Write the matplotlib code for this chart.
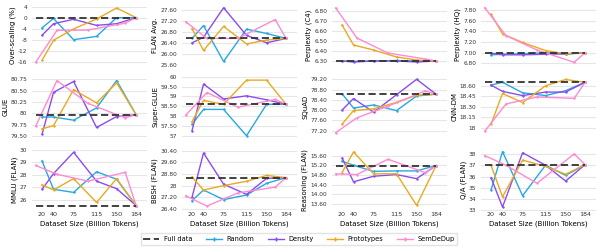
import numpy as np
import matplotlib.pyplot as plt
from matplotlib.ticker import MultipleLocator, FuncFormatter

# dataset sizes (billion tokens)
sizes = [20, 40, 75, 115, 150, 184]
sizes_sem = [9, 46, 100, 165, 184]
xticks = [20, 40, 75, 115, 150, 184]

over_full = 0.0
over_random = [-3.7, -0.3, -8.0, -6.8, 0.0, 0.0]
over_density = [-6.4, -2.2, -0.6, -2.8, -2.2, 0.0]
over_proto = [-15.5, -8.2, -4.1, -0.5, 3.5, 0.0]
over_sem = [-16.2, -4.6, -4.5, -2.0, 0.0]

flan_full = 26.56
flan_random = [26.56, 27.03, 25.72, 26.90, 26.74, 26.56]
flan_density = [26.40, 26.60, 27.68, 26.67, 26.40, 26.56]
flan_proto = [26.92, 26.12, 27.00, 26.36, 26.50, 26.56]
flan_sem = [27.17, 26.56, 26.56, 27.25, 26.56]

c4_full = 6.30
c4_random = [6.30, 6.295, 6.30, 6.305, 6.30, 6.30]
c4_density = [6.30, 6.29, 6.30, 6.30, 6.29, 6.30]
c4_proto = [6.66, 6.46, 6.41, 6.34, 6.31, 6.30]
c4_sem = [6.83, 6.53, 6.38, 6.32, 6.30]

hq_full = 7.00
hq_random = [6.96, 6.97, 6.98, 7.00, 6.97, 7.00]
hq_density = [6.99, 6.96, 6.96, 6.97, 6.98, 7.00]
hq_proto = [7.72, 7.35, 7.19, 7.04, 6.98, 7.00]
hq_sem = [7.84, 7.32, 7.05, 6.82, 7.00]

glue_full = 79.97
glue_random = [79.92, 79.92, 79.85, 80.12, 80.72, 79.97]
glue_density = [79.54, 80.46, 80.70, 79.69, 79.93, 79.97]
glue_proto = [79.66, 79.73, 80.52, 80.23, 80.67, 79.97]
glue_sem = [79.72, 80.72, 80.22, 79.90, 79.97]

sglue_full = 58.60
sglue_random = [57.58, 58.34, 58.34, 57.00, 58.60, 58.60]
sglue_density = [57.26, 59.63, 58.87, 59.03, 58.83, 58.60]
sglue_proto = [57.72, 58.80, 58.60, 59.83, 59.83, 58.60]
sglue_sem = [58.05, 59.20, 58.45, 58.85, 58.60]

squad_full = 78.62
squad_random = [78.64, 78.08, 78.20, 77.98, 78.55, 78.62]
squad_density = [78.00, 78.45, 77.92, 78.60, 79.20, 78.62]
squad_proto = [77.45, 77.98, 78.05, 78.30, 78.58, 78.62]
squad_sem = [77.12, 77.70, 78.15, 78.75, 78.62]

cnn_full = 18.65
cnn_random = [18.61, 18.65, 18.50, 18.46, 18.53, 18.65]
cnn_density = [18.61, 18.52, 18.46, 18.51, 18.51, 18.65]
cnn_proto = [18.05, 18.49, 18.36, 18.60, 18.69, 18.65]
cnn_sem = [17.95, 18.34, 18.44, 18.42, 18.65]

mmlu_full = 25.55
mmlu_random = [29.10, 26.85, 26.60, 28.25, 27.65, 25.55]
mmlu_density = [26.85, 28.10, 29.80, 27.50, 26.90, 25.55]
mmlu_proto = [27.20, 26.80, 27.70, 25.80, 27.70, 25.55]
mmlu_sem = [28.75, 28.05, 27.50, 28.20, 25.55]

bbsh_full = 28.55
bbsh_random = [26.97, 27.70, 27.04, 27.36, 28.16, 28.55]
bbsh_density = [27.20, 30.24, 28.10, 27.40, 28.50, 28.55]
bbsh_proto = [28.60, 27.70, 28.00, 28.30, 28.70, 28.55]
bbsh_sem = [27.30, 26.60, 27.50, 27.90, 28.55]

reas_full = 15.19
reas_random = [15.37, 15.20, 14.95, 14.97, 14.97, 15.19]
reas_density = [15.50, 14.52, 14.75, 14.82, 14.65, 15.19]
reas_proto = [14.90, 15.75, 14.85, 14.85, 13.55, 15.19]
reas_sem = [14.85, 14.82, 15.45, 14.90, 15.19]

qa_full = 37.05
qa_random = [34.80, 38.20, 34.30, 37.00, 36.10, 37.05]
qa_density = [35.90, 33.30, 38.10, 37.00, 35.60, 37.05]
qa_proto = [37.00, 34.20, 37.45, 36.90, 36.20, 37.05]
qa_sem = [37.85, 37.00, 35.40, 38.00, 37.05]

# (ylabel, full, random, density, prototypes, semdedup, tick step, short integer labels, ylim)
panels = [
    ("Over-scaling (%)", over_full, over_random, over_density, over_proto, over_sem, 4, True, (-17.2, 4.6)),
    ("FLAN Avg.", flan_full, flan_random, flan_density, flan_proto, flan_sem, 0.4, False, (25.59, 27.78)),
    ("Perplexity (C4)", c4_full, c4_random, c4_density, c4_proto, c4_sem, 0.1, False, (6.26, 6.86)),
    ("Perplexity (HQ)", hq_full, hq_random, hq_density, hq_proto, hq_sem, 0.2, False, (6.77, 7.89)),
    ("GLUE", glue_full, glue_random, glue_density, glue_proto, glue_sem, 0.25, True, (79.47, 80.82)),
    ("Super-GLUE", sglue_full, sglue_random, sglue_density, sglue_proto, sglue_sem, 0.5, True, (56.91, 60.04)),
    ("SQuAD", squad_full, squad_random, squad_density, squad_proto, squad_sem, 0.4, False, (76.93, 79.33)),
    ("CNN-DM", cnn_full, cnn_random, cnn_density, cnn_proto, cnn_sem, 0.15, True, (17.86, 18.74)),
    ("MMLU (FLAN)", mmlu_full, mmlu_random, mmlu_density, mmlu_proto, mmlu_sem, 1, True, (25.12, 30.02)),
    ("BBSH (FLAN)", bbsh_full, bbsh_random, bbsh_density, bbsh_proto, bbsh_sem, 0.8, True, (26.26, 30.48)),
    ("Reasoning (FLAN)", reas_full, reas_random, reas_density, reas_proto, reas_sem, 0.4, False, (13.32, 15.85)),
    ("Q/A (FLAN)", qa_full, qa_random, qa_density, qa_proto, qa_sem, 1, True, (32.95, 38.39)),
]

c_random = "#29a8e0"
c_density = "#8a4dee"
c_proto = "#e8aa22"
c_sem = "#ff8ad0"

W, H = 598, 249
fig = plt.figure(figsize=(W / 100, H / 100), dpi=100)

col_left = [32, 182, 332, 481]
col_w = 115
row_top = [5, 76, 149.5]
row_bot = [65, 137.5, 211]


def make_fmt(short):
    def fmt(v, pos):
        if short and abs(v - round(v)) < 1e-6:
            return f"{int(round(v))}"
        return f"{v:.2f}"
    return fmt


for k, (label, full, rnd, dens, proto, sem, step, short, ylim) in enumerate(panels):
    r, c = divmod(k, 4)
    ax = fig.add_axes([col_left[c] / W, 1 - row_bot[r] / H,
                       col_w / W, (row_bot[r] - row_top[r]) / H])
    ax.plot([9, 184], [full, full], color="#333333", ls="--", lw=1.3, dashes=(4, 2), zorder=5)
    ax.plot(sizes, rnd, color=c_random, lw=1.0, marker="+", ms=2)
    ax.plot(sizes, dens, color=c_density, lw=1.0, marker="+", ms=2)
    ax.plot(sizes, proto, color=c_proto, lw=1.0, marker="+", ms=2)
    ax.plot(sizes_sem, sem, color=c_sem, lw=1.0, marker="+", ms=2)
    ax.set_xlim(2.5, 203)
    ax.set_ylim(*ylim)
    ax.yaxis.set_major_locator(MultipleLocator(step))
    ax.yaxis.set_major_formatter(FuncFormatter(make_fmt(short)))
    ax.grid(axis="y", color="#e6e6e6", lw=0.8)
    ax.set_axisbelow(True)
    for s in ax.spines.values():
        s.set_visible(False)
    ax.tick_params(length=0, labelsize=4.2, labelcolor="#333333")
    ax.tick_params(axis="y", pad=3.5)
    ax.set_ylabel(label, fontsize=5.0, labelpad=1.5)
    ax.set_xticks(xticks)
    if r == 2:
        ax.tick_params(axis="x", labelsize=4.6, pad=1)
        ax.set_xlabel("Dataset Size (Billion Tokens)", fontsize=5.0, labelpad=2)
    else:
        ax.set_xticklabels([])

handles = [
    plt.Line2D([], [], color="#333333", ls="--", lw=1.3, dashes=(4, 2)),
    plt.Line2D([], [], color=c_random, lw=1.0, marker="+", ms=3),
    plt.Line2D([], [], color=c_density, lw=1.0, marker="+", ms=3),
    plt.Line2D([], [], color=c_proto, lw=1.0, marker="+", ms=3),
    plt.Line2D([], [], color=c_sem, lw=1.0, marker="+", ms=3),
]
fig.legend(handles, ["Full data", "Random", "Density", "Prototypes", "SemDeDup"],
           loc="center", bbox_to_anchor=(0.5, 1 - 239 / H), ncol=5, fontsize=4.8,
           frameon=True, edgecolor="#dddddd", fancybox=False, handlelength=2.4,
           handletextpad=0.7, columnspacing=2.0, borderpad=0.4)

fig.savefig("out.png", dpi=100)
